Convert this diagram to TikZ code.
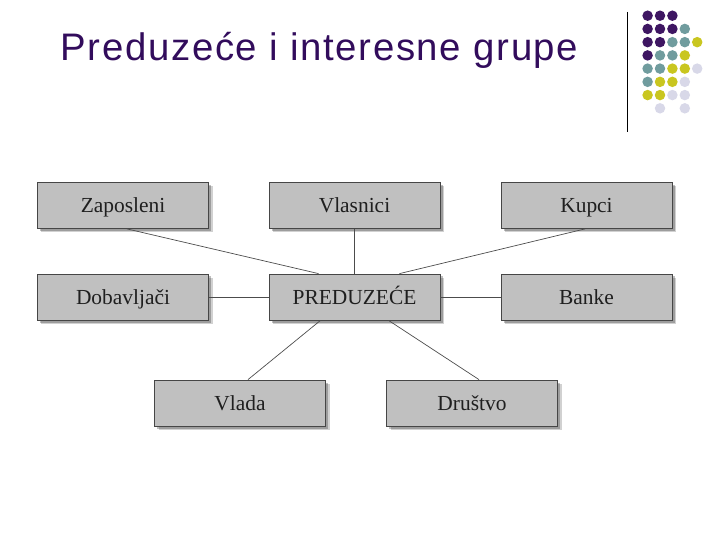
\documentclass[tikz,border=0pt]{standalone}
\usepackage{fontspec}
\setmainfont{Liberation Sans}
\newfontfamily\boxfont{Liberation Serif}
\newfontfamily\titlefont[LetterSpace=4.3]{Liberation Sans}
\usepackage{xcolor}
\usepackage{tikz}
\usetikzlibrary{positioning, shadows}

\definecolor{titlepurple}{RGB}{50,12,92}
\definecolor{dotP}{RGB}{62,22,98}
\definecolor{dotT}{RGB}{112,156,158}
\definecolor{dotY}{RGB}{201,198,32}
\definecolor{dotL}{RGB}{216,216,232}
\definecolor{boxgray}{RGB}{192,192,192}
\definecolor{boxline}{RGB}{70,70,70}

\begin{document}
\begin{tikzpicture}[x=1bp, y=-1bp,
    party/.style={rectangle, draw=boxline, fill=boxgray, line width=0.8pt, minimum width=171bp, minimum height=46bp, text height=14.5bp, text depth=0pt, align=center, font=\boxfont\fontsize{21.5}{25}\selectfont, text=black!88, drop shadow={shadow xshift=4bp, shadow yshift=-4bp, fill=black, opacity=0.18}, drop shadow={shadow xshift=2.5bp, shadow yshift=-2.5bp, fill=black, opacity=0.25}},
    link/.style={draw=black!70, line width=0.7pt},
    dot/.style={circle, inner sep=0pt, minimum size=10.5bp}
]
\useasboundingbox (0,0) rectangle (720,540);

% title and corner decoration
\node[anchor=base west, inner sep=0pt, text=titlepurple, font=\titlefont\fontsize{38.5}{44}\selectfont] (title) at (60.5,60.7) {Preduzeće i interesne grupe};
\coordinate (bartop) at (627,12);
\coordinate (barbot) at (627,132);
\draw[line width=0.8pt] (bartop) -- (barbot);
\foreach \c/\r/\col in {0/0/dotP, 1/0/dotP, 2/0/dotP,
                         0/1/dotP, 1/1/dotP, 2/1/dotP, 3/1/dotT,
                         0/2/dotP, 1/2/dotP, 2/2/dotT, 3/2/dotT, 4/2/dotY,
                         0/3/dotP, 1/3/dotT, 2/3/dotT, 3/3/dotY,
                         0/4/dotT, 1/4/dotT, 2/4/dotY, 3/4/dotY, 4/4/dotL,
                         0/5/dotT, 1/5/dotY, 2/5/dotY, 3/5/dotL,
                         0/6/dotY, 1/6/dotY, 2/6/dotL, 3/6/dotL,
                         1/7/dotL, 3/7/dotL}
    \node[dot, fill=\col] (d\c\r) at ({647.6+12.4*\c},{15.7+13.23*\r}) {};

% stakeholders
\node[party] (zap) at (123,205.5) {Zaposleni};
\node[party] (vla) at (354.5,205.5) {Vlasnici};
\node[party] (kup) at (586.5,205.5) {Kupci};
\node[party] (dob) at (123,297) {Dobavljači};
\node[party] (pred) at (354.5,297) {PREDUZEĆE};
\node[party] (ban) at (586.5,297) {Banke};
\node[party] (vld) at (240,403) {Vlada};
\node[party] (dru) at (472,403) {Društvo};

\draw[link] ([xshift=4bp]zap.south) -- ([xshift=-36bp]pred.north);
\draw[link] (vla.south) -- (pred.north);
\draw[link] ([xshift=-1.5bp]kup.south) -- ([xshift=45bp]pred.north);
\draw[link] (dob.east) -- (pred.west);
\draw[link] (pred.east) -- (ban.west);
\draw[link] ([xshift=-34bp]pred.south) -- ([xshift=8bp]vld.north);
\draw[link] ([xshift=34bp]pred.south) -- ([xshift=7bp]dru.north);

\end{tikzpicture}
\end{document}
